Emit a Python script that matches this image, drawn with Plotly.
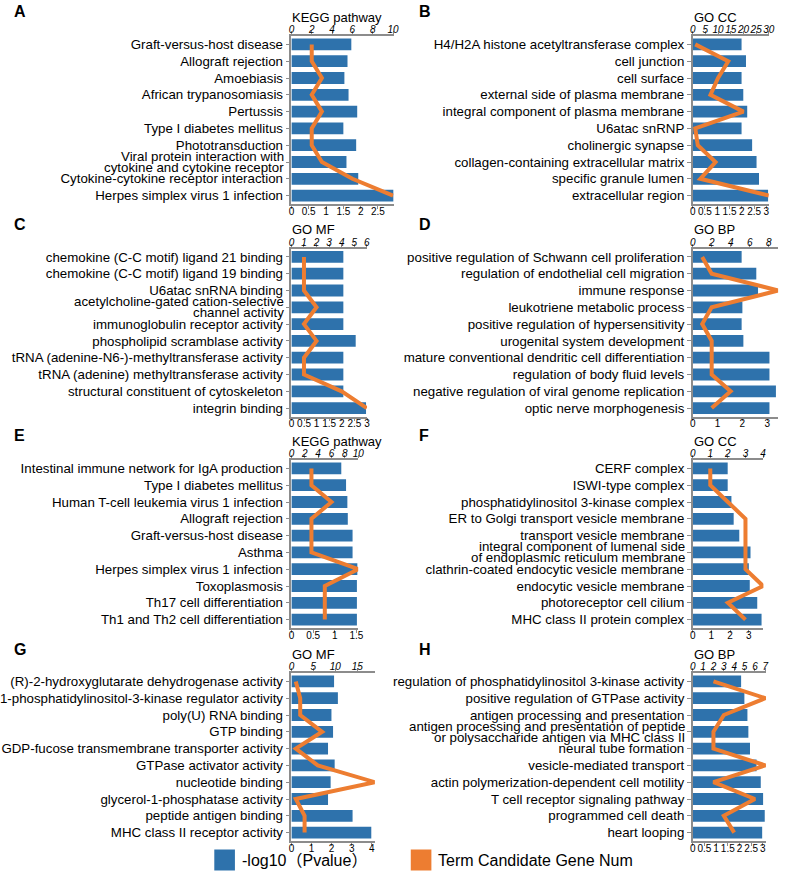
import plotly.graph_objects as go

FW, FH = 793, 874
FONT = "Liberation Sans, Arial, Noto Sans CJK SC, sans-serif"
BLUE = "#2E72AC"
ORANGE = "#ED7D31"
GRAY = "#8c8c8c"

# ---------------- data ----------------
A_terms = ["Graft-versus-host disease", "Allograft rejection", "Amoebiasis", "African trypanosomiasis",
           "Pertussis", "Type I diabetes mellitus", "Phototransduction",
           "Viral protein interaction with<br>cytokine and cytokine receptor",
           "Cytokine-cytokine receptor interaction", "Herpes simplex virus 1 infection"]
A_pval = [1.73, 1.62, 1.53, 1.65, 1.90, 1.50, 1.87, 1.59, 1.93, 2.95]
A_genes = [2, 2, 3, 2, 3, 2, 2, 3, 6, 10]

B_terms = ["H4/H2A histone acetyltransferase complex", "cell junction", "cell surface",
           "external side of plasma membrane", "integral component of plasma membrane", "U6atac snRNP",
           "cholinergic synapse", "collagen-containing extracellular matrix", "specific granule lumen",
           "extracellular region"]
B_pval = [1.99, 2.17, 1.99, 2.06, 2.22, 1.99, 2.42, 2.60, 2.70, 3.07]
B_genes = [1, 14, 10, 7, 20, 1, 2, 9, 3, 30]

C_terms = ["chemokine (C-C motif) ligand 21 binding", "chemokine (C-C motif) ligand 19 binding",
           "U6atac snRNA binding", "acetylcholine-gated cation-selective<br>channel activity",
           "immunoglobulin receptor activity", "phospholipid scramblase activity",
           "tRNA (adenine-N6-)-methyltransferase activity", "tRNA (adenine) methyltransferase activity",
           "structural constituent of cytoskeleton", "integrin binding"]
C_pval = [2.06, 2.06, 2.06, 2.06, 2.06, 2.55, 2.06, 2.06, 2.06, 2.96]
C_genes = [1, 1, 1, 2, 1, 2, 1, 1, 4, 6]

D_terms = ["positive regulation of Schwann cell proliferation", "regulation of endothelial cell migration",
           "immune response", "leukotriene metabolic process", "positive regulation of hypersensitivity",
           "urogenital system development", "mature conventional dendritic cell differentiation",
           "regulation of body fluid levels", "negative regulation of viral genome replication",
           "optic nerve morphogenesis"]
D_pval = [1.97, 2.56, 2.63, 2.00, 1.97, 2.04, 3.09, 3.09, 3.35, 3.09]
D_genes = [1, 2, 9, 2, 1, 2, 2, 2, 4, 2]

E_terms = ["Intestinal immune network for IgA production", "Type I diabetes mellitus",
           "Human T-cell leukemia virus 1 infection", "Allograft rejection", "Graft-versus-host disease",
           "Asthma", "Herpes simplex virus 1 infection", "Toxoplasmosis", "Th17 cell differentiation",
           "Th1 and Th2 cell differentiation"]
E_pval = [1.15, 1.26, 1.29, 1.30, 1.41, 1.41, 1.52, 1.51, 1.51, 1.51]
E_genes = [3, 3, 6, 3, 3, 3, 10, 5, 5, 5]

F_terms = ["CERF complex", "ISWI-type complex", "phosphatidylinositol 3-kinase complex",
           "ER to Golgi transport vesicle membrane", "transport vesicle membrane",
           "integral component of lumenal side<br>of endoplasmic reticulum membrane",
           "clathrin-coated endocytic vesicle membrane", "endocytic vesicle membrane",
           "photoreceptor cell cilium", "MHC class II protein complex"]
F_pval = [1.87, 1.87, 2.07, 2.19, 2.49, 3.09, 3.00, 3.05, 3.45, 3.68]
F_genes = [1, 1, 2, 3, 3, 3, 3, 4, 2, 3]

G_terms = ["(R)-2-hydroxyglutarate dehydrogenase activity", "1-phosphatidylinositol-3-kinase regulator activity",
           "poly(U) RNA binding", "GTP binding", "GDP-fucose transmembrane transporter activity",
           "GTPase activator activity", "nucleotide binding", "glycerol-1-phosphatase activity",
           "peptide antigen binding", "MHC class II receptor activity"]
G_pval = [2.12, 2.31, 1.99, 2.07, 1.82, 2.15, 1.95, 1.82, 3.04, 3.97]
G_genes = [1, 2, 2, 7, 1, 6, 19, 1, 3, 3]

H_terms = ["regulation of phosphatidylinositol 3-kinase activity", "positive regulation of GTPase activity",
           "antigen processing and presentation",
           "antigen processing and presentation of peptide<br>or polysaccharide antigen via MHC class II",
           "neural tube formation", "vesicle-mediated transport",
           "actin polymerization-dependent cell motility", "T cell receptor signaling pathway",
           "programmed cell death", "heart looping"]
H_pval = [2.07, 2.21, 2.34, 2.38, 2.45, 2.73, 2.91, 3.01, 3.08, 2.97]
H_genes = [2, 7, 3, 2, 2, 7, 2, 6, 3, 4]

legend_labels = ["-log10（Pvalue）", "Term Candidate Gene Num"]


# ---------------- layout config (pixels) ----------------
def px(x):
    return x / FW


def py(y):
    return 1 - y / FH


X_ORIG = [288.5, 697]
ROW_TOP = [36, 248.5, 460, 673]
PH = 168
LABEL_SIZE = 13.3

panels = [
    dict(letter="A", title="KEGG pathway", terms=A_terms, p=A_pval, g=A_genes, col=0, row=0,
         pr=[0, 2.95], pd=0.5, gr=[0, 10.05], gd=2, w=104),
    dict(letter="B", title="GO CC", terms=B_terms, p=B_pval, g=B_genes, col=1, row=0,
         pr=[0, 3.1], pd=0.5, gr=[0, 30], gd=5, w=77.5),
    dict(letter="C", title="GO MF", terms=C_terms, p=C_pval, g=C_genes, col=0, row=1,
         pr=[0, 3.0], pd=0.5, gr=[0, 6.02], gd=1, w=77),
    dict(letter="D", title="GO BP", terms=D_terms, p=D_pval, g=D_genes, col=1, row=1,
         pr=[0, 3.44], pd=1, gr=[0, 9.0], gd=2, w=87),
    dict(letter="E", title="KEGG pathway", terms=E_terms, p=E_pval, g=E_genes, col=0, row=2,
         pr=[0, 1.54], pd=0.5, gr=[0, 10.0], gd=2, w=68),
    dict(letter="F", title="GO CC", terms=F_terms, p=F_pval, g=F_genes, col=1, row=2,
         pr=[0, 3.78], pd=1, gr=[0, 4.02], gd=1, w=72),
    dict(letter="G", title="GO MF", terms=G_terms, p=G_pval, g=G_genes, col=0, row=3,
         pr=[0, 4.15], pd=1, gr=[0, 19], gd=5, w=85),
    dict(letter="H", title="GO BP", terms=H_terms, p=H_pval, g=H_genes, col=1, row=3,
         pr=[0, 3.15], pd=0.5, gr=[0, 7.1], gd=1, w=75),
]

fig = go.Figure()
layout = dict(
    width=FW, height=FH, margin=dict(l=0, r=0, t=0, b=0),
    paper_bgcolor="white", plot_bgcolor="white",
    showlegend=False, bargap=0.3,
    font=dict(family=FONT, color="black", size=12),
    annotations=[], shapes=[],
)

for i, pn in enumerate(panels):
    n = i + 1
    nt = i + 9
    x0 = X_ORIG[pn["col"]]
    top = ROW_TOP[pn["row"]]
    xd = [px(x0), px(x0 + pn["w"])]
    yd = [py(top + PH), py(top)]
    xa, xt, ya = f"x{n}", f"x{nt}", f"y{n}"

    fig.add_trace(go.Bar(x=pn["p"], y=pn["terms"], orientation="h",
                         marker=dict(color=BLUE, line=dict(width=0)),
                         xaxis=xa, yaxis=ya, name=legend_labels[0]))
    fig.add_trace(go.Scatter(x=pn["g"], y=pn["terms"], mode="lines",
                             line=dict(color=ORANGE, width=4),
                             xaxis=xt, yaxis=ya, name=legend_labels[1], cliponaxis=False))

    common = dict(showline=True, linecolor=GRAY, linewidth=1.5, ticks="outside", ticklen=3,
                  tickcolor=GRAY, tickwidth=1, showgrid=False, zeroline=False, tickangle=0,
                  fixedrange=True, ticklabelstandoff=-6)
    layout[f"xaxis{n}"] = dict(domain=xd, anchor=ya, range=pn["pr"], dtick=pn["pd"], tick0=0,
                               tickfont=dict(size=10, color="black"), **common)
    layout[f"xaxis{nt}"] = dict(overlaying=xa, side="top", anchor=ya, range=pn["gr"], dtick=pn["gd"],
                                tick0=0, tickfont=dict(size=10, color="black", style="italic"), **common)

    # two-line terms are written as tightly spaced annotation lines; others are plain tick labels
    ticktext = []
    for t in pn["terms"]:
        if "<br>" in t:
            ticktext.append("")
            l1, l2 = t.split("<br>")
            for line, sh in ((l1, 5.5), (l2, -5.5)):
                layout["annotations"].append(dict(text=line, xref="paper", yref=ya, x=px(x0 - 6), y=t,
                                                  yshift=sh, xanchor="right", yanchor="middle",
                                                  showarrow=False,
                                                  font=dict(size=LABEL_SIZE, color="black")))
        else:
            ticktext.append(t)

    layout[f"yaxis{n}"] = dict(domain=yd, anchor=xa, type="category", autorange="reversed",
                               tickmode="array", tickvals=pn["terms"], ticktext=ticktext,
                               showline=True, linecolor=GRAY, linewidth=1.5, ticks="outside", ticklen=4,
                               tickcolor=GRAY, showgrid=False, zeroline=False, fixedrange=True,
                               tickfont=dict(size=LABEL_SIZE, color="black"))

    layout["annotations"].append(dict(text=pn["title"], xref="paper", yref="paper",
                                      x=px(x0 - 1), y=py(top - 18.5), xanchor="left", yanchor="middle",
                                      showarrow=False, font=dict(size=13, color="black")))
    lx = 4 if pn["col"] == 0 else 416
    layout["annotations"].append(dict(text=f"<b>{pn['letter']}</b>", xref="paper", yref="paper",
                                      x=px(lx), y=py(top - 24), xanchor="left", yanchor="middle",
                                      showarrow=False, font=dict(size=16, color="black")))

# legend drawn as swatches + text
LEG_Y = 860
for (sx, tx, col, lab) in [(210, 236, BLUE, legend_labels[0]), (410, 436, ORANGE, legend_labels[1])]:
    layout["shapes"].append(dict(type="rect", xref="paper", yref="paper",
                                 x0=px(sx), x1=px(sx + 21), y0=py(LEG_Y + 10.5), y1=py(LEG_Y - 10.5),
                                 fillcolor=col, line=dict(width=0)))
    layout["annotations"].append(dict(text=lab, xref="paper", yref="paper", x=px(tx), y=py(LEG_Y),
                                      xanchor="left", yanchor="middle", showarrow=False,
                                      font=dict(size=16, color="black")))

fig.update_layout(**layout)
# remove the browser's default 8px page margin so the figure fills the window exactly
fig.write_html("out.html", config={"displayModeBar": False},
               post_script="document.body.style.margin='0px';")
